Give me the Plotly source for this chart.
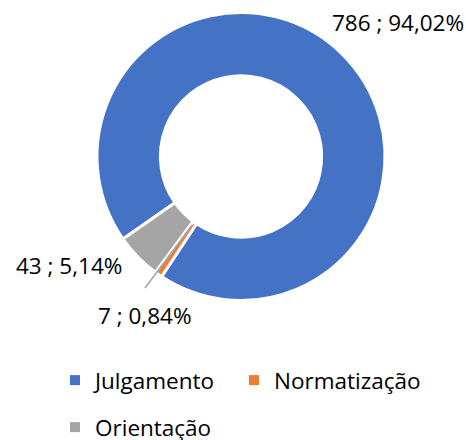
import plotly.graph_objects as go

categories = ["Julgamento", "Normatização", "Orientação"]
values = [786, 7, 43]
colors = ["#4472C4", "#ED7D31", "#A5A5A5"]

total = sum(values)
labels_txt = [f"{v} ; {100*v/total:.2f}%".replace(".", ",") for v in values]

FONT = "Open Sans"
FS = 22.5
W, H = 466, 440

def px(x):
    return x / W

def py(y):
    return 1 - y / H

fig = go.Figure(go.Pie(
    labels=categories,
    values=values,
    hole=0.56,
    sort=False,
    direction="clockwise",
    rotation=235,
    marker=dict(colors=colors, line=dict(color="white", width=3)),
    textinfo="none",
    hoverinfo="label+value+percent",
    showlegend=False,
    domain=dict(x=[px(97), px(385)], y=[py(300.5), py(12.5)]),
))

# legend entries (two legends to reproduce the two-row layout)
legend_ids = ["legend", "legend", "legend2"]
legend_widths = [134, 170, 150]
for name, col, lg, lw in zip(categories, colors, legend_ids, legend_widths):
    fig.add_trace(go.Scatter(x=[None], y=[None], mode="markers", name=name,
                             marker=dict(symbol="square", size=10, color=col),
                             legend=lg, legendwidth=lw, showlegend=True,
                             hoverinfo="skip"))

# data labels (positions are layout)
fig.add_annotation(x=px(466), y=py(22), xref="paper", yref="paper",
                   text=labels_txt[0], showarrow=False,
                   font=dict(family=FONT, size=FS, color="#000000"),
                   xanchor="right", yanchor="middle")
fig.add_annotation(x=px(96), y=py(315), xref="paper", yref="paper",
                   text=labels_txt[1], showarrow=False,
                   font=dict(family=FONT, size=FS, color="#000000"),
                   xanchor="left", yanchor="middle")
fig.add_annotation(x=px(14), y=py(265), xref="paper", yref="paper",
                   text=labels_txt[2], showarrow=False,
                   font=dict(family=FONT, size=FS, color="#000000"),
                   xanchor="left", yanchor="middle")

# leader line for the small slice
fig.add_shape(type="line", xref="paper", yref="paper",
              x0=px(145), y0=py(288), x1=px(192), y1=py(225),
              line=dict(color="#A5A5A5", width=1.5))

legend_font = dict(family=FONT, size=FS, color="#000000")
fig.update_layout(
    width=W, height=H,
    margin=dict(l=0, r=0, t=0, b=0, autoexpand=False),
    paper_bgcolor="white",
    plot_bgcolor="white",
    xaxis=dict(visible=False),
    yaxis=dict(visible=False),
    legend=dict(orientation="h", x=px(55), xanchor="left", y=py(359), yanchor="top",
                font=legend_font, entrywidthmode="pixels",
                bgcolor="rgba(0,0,0,0)"),
    legend2=dict(orientation="h", x=px(55), xanchor="left", y=py(406), yanchor="top",
                 font=legend_font, bgcolor="rgba(0,0,0,0)"),
)

fig.write_html("out.html", config={"displayModeBar": False},
               post_script="document.body.style.margin='0';document.body.style.overflow='hidden';")
